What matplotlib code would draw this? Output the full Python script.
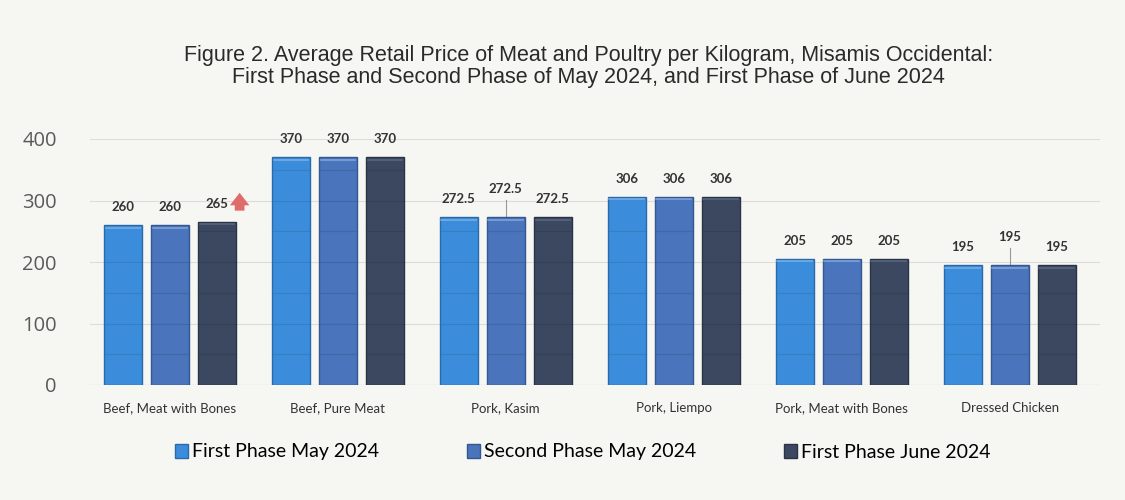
import matplotlib
matplotlib.use("Agg")
import matplotlib.pyplot as plt
import numpy as np
from matplotlib.patches import Patch

categories = ["Beef, Meat with Bones", "Beef, Pure Meat", "Pork, Kasim",
              "Pork, Liempo", "Pork, Meat with Bones", "Dressed Chicken"]
series_names = ["First Phase May 2024", "Second Phase May 2024", "First Phase June 2024"]
first_may = [260, 370, 272.5, 306, 205, 195]
second_may = [260, 370, 272.5, 306, 205, 195]
first_june = [265, 370, 272.5, 306, 205, 195]
label_texts = [
    ["260", "370", "272.5", "306", "205", "195"],
    ["260", "370", "272.5", "306", "205", "195"],
    ["265", "370", "272.5", "306", "205", "195"],
]
y_ticks = [0, 100, 200, 300, 400]

colors = ["#3b8ddb", "#4a74bb", "#3b4860"]
edge_colors = ["#2a6aa8", "#34578f", "#2a3446"]
bg = "#f6f6f3"

fig = plt.figure(figsize=(11.25, 5), dpi=100, facecolor=bg)
ax = fig.add_axes([0.08, 0.23, 0.898, 0.492], facecolor=bg)

x = np.arange(len(categories))
w = 0.226
step = 0.28
series = [first_may, second_may, first_june]
for i, vals in enumerate(series):
    off = (i - 1) * step
    ax.bar(x + off, vals, width=w, color=colors[i], edgecolor=edge_colors[i],
           linewidth=1.0, zorder=3)
    for xi, v in zip(x, vals):
        ax.plot([xi + off - w / 2 + 0.01, xi + off + w / 2 - 0.01], [v - 4, v - 4],
                color="#9cc4ec" if i < 2 else "#6a7a95", lw=1.2, alpha=0.6, zorder=4)
        for h in np.arange(50, v - 10, 50):
            ax.plot([xi + off - w / 2, xi + off + w / 2], [h, h],
                    color=edge_colors[i], lw=0.8, alpha=0.4, zorder=4)

# value labels
for i, vals in enumerate(series):
    off = (i - 1) * step
    for j, v in enumerate(vals):
        dy = 20
        if i == 1 and j in (2, 5):
            dy = 36
            ax.plot([j + off, j + off], [v + 2, v + dy - 8], color="#999999", lw=0.8,
                    zorder=2, clip_on=False)
        ax.text(j + off, v + dy, label_texts[i][j], ha="center", va="bottom",
                fontsize=9.5, fontweight="bold", color="#333333",
                family=["Lato", "DejaVu Sans"], clip_on=False)

# red up arrow next to 265
ax.annotate("", xy=(step + 0.135, first_june[0] + 52),
            xytext=(step + 0.135, first_june[0] + 14),
            arrowprops=dict(arrowstyle="simple,head_width=1.4,head_length=0.9,tail_width=0.7",
                            color="#e06b6b", lw=0), annotation_clip=False)

ax.set_ylim(0, 400)
ax.set_xlim(-0.476, 5.54)
ax.set_yticks(y_ticks)
ax.set_yticklabels([str(t) for t in y_ticks], fontsize=14.5, color="#5a5a5a",
                   family=["Open Sans", "DejaVu Sans"])
ax.set_xticks(x)
ax.set_xticklabels(categories, fontsize=9.5, color="#333333", family=["Lato", "DejaVu Sans"])
ax.tick_params(axis="both", length=0)
ax.tick_params(axis="y", pad=24)
ax.tick_params(axis="x", pad=12)
for s in ax.spines.values():
    s.set_visible(False)
ax.grid(axis="y", color="#dcdcdc", lw=0.8, zorder=0)
ax.axhline(0, color="#cccccc", lw=0.8, zorder=1)

fig.text(0.523, 0.867, "Figure 2. Average Retail Price of Meat and Poultry per Kilogram, Misamis Occidental:\n"
         "First Phase and Second Phase of May 2024, and First Phase of June 2024",
         ha="center", va="center", fontsize=15.5, color="#2a2a2a", linespacing=1.0,
         family=["Liberation Sans Narrow", "Liberation Sans", "DejaVu Sans"])

handles = [Patch(facecolor=c, edgecolor=e) for c, e in zip(colors, edge_colors)]
fig.legend(handles, series_names, loc="center", bbox_to_anchor=(0.518, 0.096), ncol=3,
           frameon=False, handlelength=0.7, handleheight=0.7,
           handletextpad=0.2, columnspacing=4.5,
           prop={"family": ["Lato", "DejaVu Sans"], "size": 14})

fig.savefig("out.png", dpi=100, facecolor=bg)
